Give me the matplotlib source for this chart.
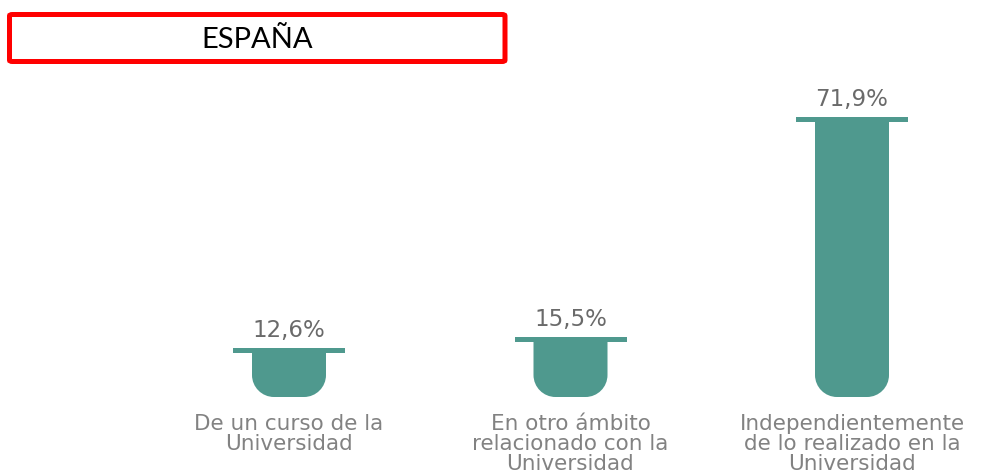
import matplotlib.pyplot as plt
from matplotlib.patches import Rectangle, FancyBboxPatch, PathPatch
from matplotlib.path import Path

title = "ESPAÑA"
categories = ["De un curso de la\nUniversidad",
              "En otro ámbito\nrelacionado con la\nUniversidad",
              "Independientemente\nde lo realizado en la\nUniversidad"]
values = [12.6, 15.5, 71.9]
value_labels = ["12,6%", "15,5%", "71,9%"]

teal = "#4f998e"
W, H, DPI = 981, 475, 100

fig = plt.figure(figsize=(W / DPI, H / DPI), dpi=DPI)
ax = fig.add_axes([0, 0, 1, 1])

# pixel mapping: x unit = 281.5 px, y unit = 3.9 px, baseline at 397 px
xu, yu = 281.5, 3.9
ax.set_xlim(-289 / xu, (W - 289) / xu)
ax.set_ylim(-(H - 397) / yu, 397 / yu)
ax.axis("off")

body_w = 74 / xu
cap_w = 112 / xu
cap_h = 5 / yu
rx, ry = 22 / xu, 22 / yu
k = 0.552


def tube(xc, top):
    l, r = xc - body_w / 2, xc + body_w / 2
    verts = [(l, top), (l, ry),
             (l, ry * (1 - k)), (l + rx * (1 - k), 0), (l + rx, 0),
             (r - rx, 0),
             (r - rx * (1 - k), 0), (r, ry * (1 - k)), (r, ry),
             (r, top), (l, top)]
    codes = [Path.MOVETO, Path.LINETO,
             Path.CURVE4, Path.CURVE4, Path.CURVE4,
             Path.LINETO,
             Path.CURVE4, Path.CURVE4, Path.CURVE4,
             Path.LINETO, Path.CLOSEPOLY]
    return PathPatch(Path(verts, codes), facecolor=teal, edgecolor="none")


for i, v in enumerate(values):
    ax.add_patch(tube(i, v - cap_h / 2))
    ax.add_patch(Rectangle((i - cap_w / 2, v - cap_h), cap_w, cap_h,
                           facecolor=teal, edgecolor="none"))
    ax.annotate(value_labels[i], (i, v), xytext=(0, 7.5), textcoords="offset points",
                ha="center", va="baseline", fontsize=16.5, color="#6a6a6a")
    ax.annotate(categories[i], (i, 0), xytext=(0, -12.5), textcoords="offset points",
                ha="center", va="top", fontsize=15.5, color="#828282", linespacing=1.0)

# title box
fig.patches.append(FancyBboxPatch((9.5 / W, 1 - 61.5 / H), 495.5 / W, 47 / H,
                                  boxstyle="round,pad=0,rounding_size=0.003",
                                  transform=fig.transFigure, facecolor="white",
                                  edgecolor="#ff0000", lw=3.6))
fig.text(257 / W, 1 - 40 / H, title, ha="center", va="center", fontsize=21,
         family="Lato", color="black")

fig.savefig("out.png", dpi=DPI)
